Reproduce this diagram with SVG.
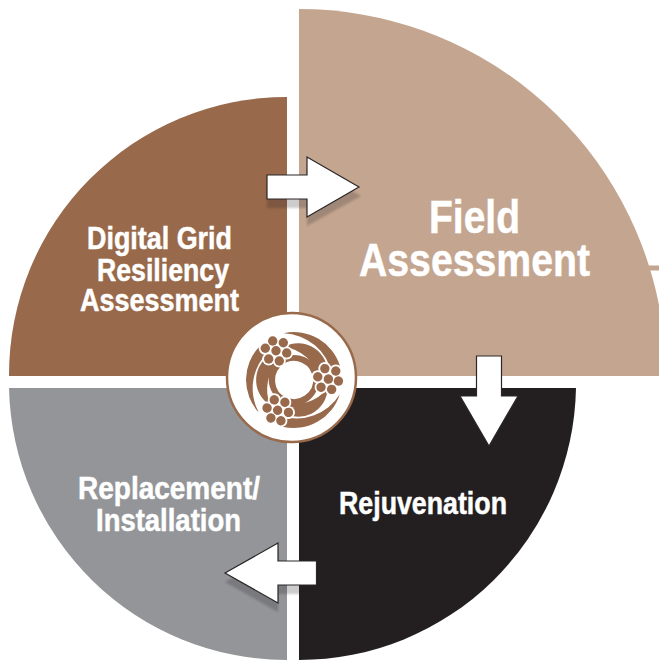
<svg xmlns="http://www.w3.org/2000/svg" xmlns:xlink="http://www.w3.org/1999/xlink" width="659" height="660" viewBox="0 0 659 660">
<style>
.w{font-family:"Liberation Sans",Arial,sans-serif;font-weight:700;fill:#fff;stroke:#fff;stroke-width:.5;}
.m{font-size:31px;}
.arrow{fill:#fff;stroke:#2b2627;stroke-width:1.2;stroke-linejoin:miter;}
.shadow{fill:#231f20;opacity:.22;filter:url(#b);}
.lg{fill:#98694a;}
.ball{fill:#98694a;}
.halo{fill:#fff;}
</style>
<defs>
<filter id="b" x="-20%" y="-20%" width="140%" height="140%"><feGaussianBlur stdDeviation="1.2"/></filter>
<g id="swirl">
<path d="M-104 -100 A144 144 0 0 0 -106 97 A153 153 0 0 1 -72 -90Z"/>
<path d="M-62 -80 A88 88 0 0 0 -72 75 A132 132 0 0 1 -45 -62Z"/>
<path d="M-40 -68 A78 78 0 0 0 -22 72 L-22 53 A57 57 0 0 1 -30 -48Z"/>
</g>
<g id="cluster">
<g class="halo">
<circle cx="-21.300" cy="-39" r="6.500"/><circle cx="-10.700" cy="-37.300" r="6.500"/>
<circle cx="-28.700" cy="-31.700" r="6.500"/><circle cx="-18" cy="-29.300" r="6.500"/><circle cx="-7.300" cy="-27" r="6.500"/>
<circle cx="-25.300" cy="-21" r="6.500"/><circle cx="-14.700" cy="-19" r="6.500"/>
</g>
<g class="ball">
<circle cx="-21.300" cy="-39" r="4.700"/><circle cx="-10.700" cy="-37.300" r="4.700"/>
<circle cx="-28.700" cy="-31.700" r="4.700"/><circle cx="-18" cy="-29.300" r="4.700"/><circle cx="-7.300" cy="-27" r="4.700"/>
<circle cx="-25.300" cy="-21" r="4.700"/><circle cx="-14.700" cy="-19" r="4.700"/>
</g>
</g>
</defs>
<rect width="659" height="660" fill="#fff"/>
<g id="node-digital-grid">
<path d="M287 376H9A278 278 0 0 1 287 97Z" fill="#98694a"/>
<text class="w m" x="87" y="249" textLength="145" lengthAdjust="spacingAndGlyphs">Digital Grid</text>
<text class="w m" x="97" y="281" textLength="132" lengthAdjust="spacingAndGlyphs">Resiliency</text>
<text class="w m" x="80" y="311" textLength="159" lengthAdjust="spacingAndGlyphs">Assessment</text>
</g>
<g id="node-field">
<path d="M299 376V9A367 367 0 0 1 659 305V376Z" fill="#c4a690"/>
<rect x="646" y="265.500" width="13" height="5" fill="#c4a690"/>
<text class="w" font-size="47" x="429" y="233" textLength="91" lengthAdjust="spacingAndGlyphs">Field</text>
<text class="w" font-size="47" x="359" y="276" textLength="231" lengthAdjust="spacingAndGlyphs">Assessment</text>
</g>
<g id="node-rejuvenation">
<path d="M299 388H576A277 277 0 0 1 299 660Z" fill="#231f20"/>
<text class="w m" x="339" y="514" textLength="168" lengthAdjust="spacingAndGlyphs">Rejuvenation</text>
</g>
<g id="node-replacement">
<path d="M287 388H9A278 278 0 0 0 287 660Z" fill="#939598"/>
<text class="w m" x="78" y="499" textLength="182" lengthAdjust="spacingAndGlyphs">Replacement/</text>
<text class="w m" x="96" y="531" textLength="145" lengthAdjust="spacingAndGlyphs">Installation</text>
</g>
<g id="connectors">
<path class="shadow" d="M267 184H307V166L361 196L307 226V208H267Z"/>
<path class="arrow" d="M267 175H307V157L359 187L307 217V199H267Z"/>
<path class="arrow" d="M476.500 356H501.500V396H518L489 446L460 396H476.500Z"/>
<path class="shadow" d="M316 570H278V552L225 582L278 612V594H316Z"/>
<path class="arrow" d="M316.500 561H278V543L225 573L278 603V585H316.500Z"/>
</g>
<g id="node-logo">
<circle cx="291.500" cy="377.500" r="64.500" fill="#fff" stroke="#98694a" stroke-width="2.500"/>
<g transform="translate(294 380) scale(.3333)" class="lg">
<use xlink:href="#swirl" href="#swirl"/>
<use xlink:href="#swirl" href="#swirl" transform="rotate(120)"/>
<use xlink:href="#swirl" href="#swirl" transform="rotate(240)"/>
</g>
<g transform="translate(294 380)">
<use xlink:href="#cluster" href="#cluster"/>
<use xlink:href="#cluster" href="#cluster" transform="rotate(120)"/>
<use xlink:href="#cluster" href="#cluster" transform="rotate(240)"/>
</g>
</g>
</svg>
